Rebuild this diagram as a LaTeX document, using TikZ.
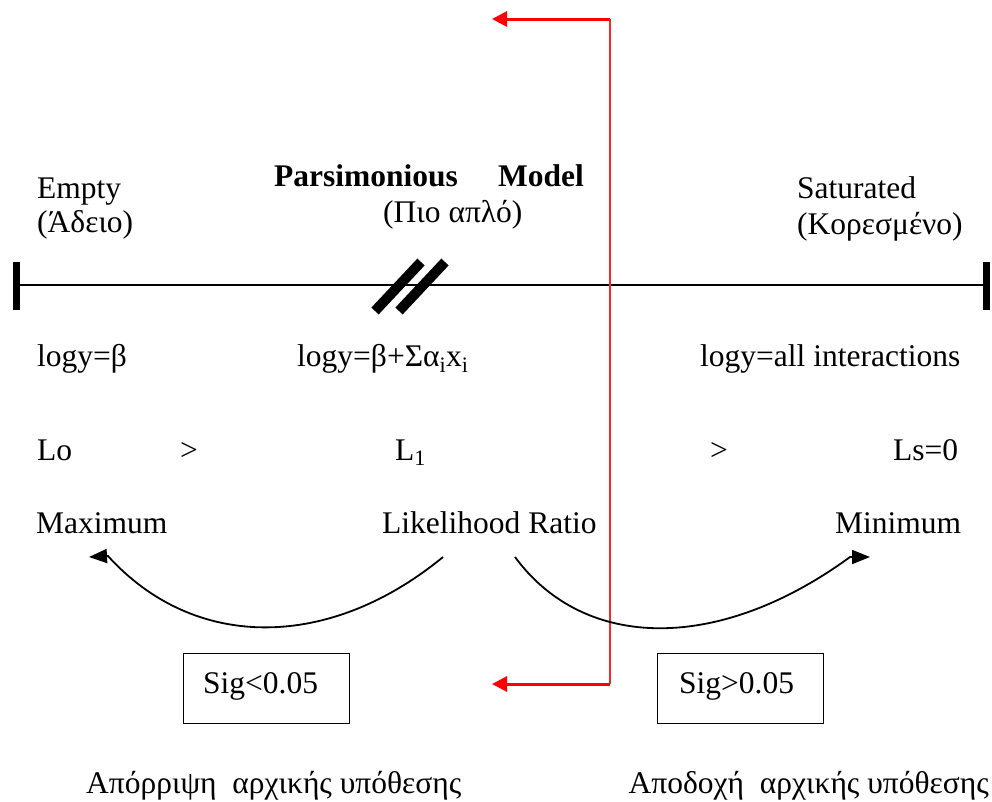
\documentclass[tikz,border=0pt]{standalone}
\usepackage{fontspec}
\setmainfont{Liberation Serif}
\usetikzlibrary{arrows.meta}
\begin{document}
\begin{tikzpicture}[x=1pt,y=-1pt,
  txt/.style={anchor=base west,inner sep=0pt,font=\fontsize{31.5}{36}\selectfont},
  sigbox/.style={draw,line width=1.3pt},
  curvearrow/.style={line width=1.8pt,-{Triangle[length=18pt,width=14pt]}},
  redarrow/.style={red,line width=3pt,-{Triangle[length=15pt,width=15pt]}},
  bar/.style={line width=7pt},
  slash/.style={line width=10pt}]
\useasboundingbox (0,0) rectangle (992,801);
% main axis
\coordinate (axL) at (17,285);
\coordinate (axR) at (986,285);
\draw[line width=1.8pt] (axL) -- (axR);
\draw[bar] (16.5,262) -- (16.5,310);
\draw[bar] (986.5,262) -- (986.5,310);
% double slash
\draw[slash] (375,311) -- (421,262);
\draw[slash] (399,311) -- (445,262);
% red lines
\coordinate (rtop) at (610,19);
\coordinate (rbot) at (610,684);
\coordinate (rtopend) at (492,19);
\coordinate (rbotend) at (492,684);
\draw[red!85,line width=2pt] (rtop) -- (rbot);
\draw[redarrow] (rtop) -- (rtopend);
\draw[redarrow] (rbot) -- (rbotend);
% top labels
\node[txt] (empty) at (37,198) {Empty};
\node[txt] (adeio) at (37,232) {(Άδειο)};
\node[txt,font=\fontsize{31.5}{36}\selectfont\bfseries] (pars) at (274,186) {Parsimonious};
\node[txt,font=\fontsize{31.5}{36}\selectfont\bfseries] (model) at (498,186) {Model};
\node[txt] (apl) at (383,222) {(Πιο απλό)};
\node[txt] (sat) at (797,198) {Saturated};
\node[txt] (kor) at (797,234) {(Κορεσμένο)};
% formulas
\node[txt] (f1) at (37,366) {logy=β};
\node[txt] (f2) at (297,366) {logy=β+Σα\textsubscript{i}x\textsubscript{i}};
\node[txt] (f3) at (700,366) {logy=all interactions};
% likelihoods
\node[txt] (lo) at (37,460) {Lo};
\node[txt] (gt1) at (180,460) {>};
\node[txt] (l1) at (395,460) {L\textsubscript{1}};
\node[txt] (gt2) at (710,460) {>};
\node[txt] (ls) at (893,460) {Ls=0};
% max/min
\node[txt] (max) at (36,533) {Maximum};
\node[txt] (lr) at (382,533) {Likelihood Ratio};
\node[txt] (min) at (835,533) {Minimum};
% curves
\coordinate (c1s) at (443,557);
\coordinate (c1e) at (108,556);
\coordinate (c1t) at (89,557);
\draw[curvearrow] (c1s) .. controls (330,650) and (195,652) .. (c1e) -- (c1t);
\coordinate (c2s) at (515,557);
\coordinate (c2e) at (850,557);
\coordinate (c2t) at (870,557);
\draw[curvearrow] (c2s) .. controls (585,652) and (720,652) .. (c2e) -- (c2t);
% boxes
\node[sigbox,minimum width=166pt,minimum height=70pt,anchor=north west,inner sep=0pt] (b1) at (183,653) {};
\node[txt] (s1) at (203,693) {Sig<0.05};
\node[sigbox,minimum width=166pt,minimum height=70pt,anchor=north west,inner sep=0pt] (b2) at (657,653) {};
\node[txt] (s2) at (679,693) {Sig>0.05};
% bottom
\node[txt] (rej) at (86,793) {Απόρριψη\ \ αρχικής υπόθεσης};
\node[txt,anchor=base east] (acc) at (989,793) {Αποδοχή\ \ αρχικής υπόθεσης};
\end{tikzpicture}
\end{document}
